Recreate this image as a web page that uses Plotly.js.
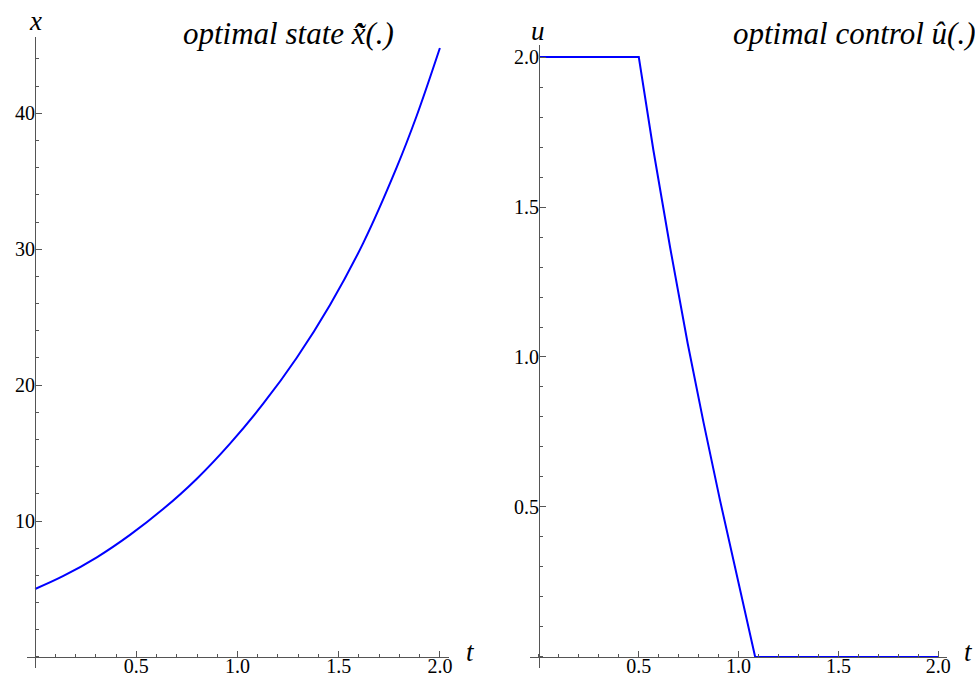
<!DOCTYPE html>
<html>
<head>
<meta charset="utf-8">
<script src="https://cdn.plot.ly/plotly-3.0.1.min.js"></script>
<style>html,body{margin:0;padding:0;background:#fff;}#chart{width:975px;height:679px;}</style>
</head>
<body>
<div id="chart"></div>
<script>
// optimal state x(t)
const stateT = [0, 0.14, 0.305, 0.469, 0.634, 0.798, 0.963, 1.128, 1.292, 1.457, 1.621, 1.786, 1.885, 2.0];
const stateX = [5.0, 5.96, 7.33, 8.98, 10.9, 13.1, 15.7, 18.65, 22.0, 25.9, 30.45, 36.0, 39.8, 44.8];
// optimal control u(t)
const controlT = [0, 0.5, 0.573, 0.657, 0.745, 0.824, 0.907, 0.991, 1.083, 2.0];
const controlU = [2.0, 2.0, 1.69, 1.365, 1.045, 0.783, 0.522, 0.27, 0.0, 0.0];
// ticks
const tTickVals = [0.5, 1.0, 1.5, 2.0];
const tTickText = ["0.5", "1.0", "1.5", "2.0"];
const xTickVals = [10, 20, 30, 40];
const xTickText = ["10", "20", "30", "40"];
const uTickVals = [0.5, 1.0, 1.5, 2.0];
const uTickText = ["0.5", "1.0", "1.5", "2.0"];

const W = 975, H = 679;
const px = v => v / W;
const py = v => 1 - v / H;

const tickFont = {family: "Liberation Serif, Times New Roman, serif", size: 20, color: "#000"};
const axisCommon = {
  showgrid: false, zeroline: false, showline: true, linecolor: "#555", linewidth: 1,
  ticks: "inside", ticklen: 6, tickcolor: "#555", tickwidth: 1, tickfont: tickFont,
  tickmode: "array", fixedrange: true
};
const minorT = {dtick: 0.1, tick0: 0, ticklen: 3, tickcolor: "#555", ticks: "inside"};

const data = [
  {x: stateT, y: stateX, xaxis: "x", yaxis: "y", type: "scatter", mode: "lines",
   line: {color: "#0000ff", width: 2, shape: "spline", smoothing: 1}, hoverinfo: "none"},
  {x: controlT, y: controlU, xaxis: "x2", yaxis: "y2", type: "scatter", mode: "lines",
   line: {color: "#0000ff", width: 2, shape: "linear"}, hoverinfo: "none"}
];

const layout = {
  width: W, height: H, margin: {l: 0, r: 0, t: 0, b: 0},
  paper_bgcolor: "#fff", plot_bgcolor: "rgba(0,0,0,0)", showlegend: false,
  xaxis: Object.assign({}, axisCommon, {
    domain: [px(27), px(449)], range: [-0.04, 2.045],
    anchor: "free", position: py(657), ticklabelstandoff: -9,
    tickvals: tTickVals, ticktext: tTickText, minor: minorT
  }),
  yaxis: Object.assign({}, axisCommon, {
    domain: [py(668), py(37)], range: [-0.81, 45.61],
    anchor: "free", position: px(35), ticklabelstandoff: -4,
    tickvals: xTickVals, ticktext: xTickText,
    minor: {dtick: 2, tick0: 0, ticklen: 3, tickcolor: "#555", ticks: "inside"}
  }),
  xaxis2: Object.assign({}, axisCommon, {
    domain: [px(530), px(947)], range: [-0.045, 2.044],
    anchor: "free", position: py(657), ticklabelstandoff: -9,
    tickvals: tTickVals, ticktext: tTickText, minor: minorT
  }),
  yaxis2: Object.assign({}, axisCommon, {
    domain: [py(668), py(45)], range: [-0.0367, 2.04],
    anchor: "free", position: px(539), ticklabelstandoff: -4,
    tickvals: uTickVals, ticktext: uTickText, minor: minorT
  }),
  annotations: [
    {text: "<i>optimal state x\u0303\u0302(.)</i>", xref: "paper", yref: "paper", x: px(288), y: py(33),
     xanchor: "center", yanchor: "middle", showarrow: false,
     font: {family: "Liberation Serif, serif", size: 31, color: "#000"}},
    {text: "<i>optimal control u\u0302(.)</i>", xref: "paper", yref: "paper", x: px(854), y: py(33),
     xanchor: "center", yanchor: "middle", showarrow: false,
     font: {family: "Liberation Serif, serif", size: 31, color: "#000"}},
    {text: "<i>x</i>", xref: "paper", yref: "paper", x: px(35), y: py(21),
     xanchor: "center", yanchor: "middle", showarrow: false,
     font: {family: "Liberation Serif, serif", size: 27, color: "#000"}},
    {text: "<i>u</i>", xref: "paper", yref: "paper", x: px(538), y: py(31),
     xanchor: "center", yanchor: "middle", showarrow: false,
     font: {family: "Liberation Serif, serif", size: 27, color: "#000"}},
    {text: "<i>t</i>", xref: "paper", yref: "paper", x: px(470), y: py(652),
     xanchor: "center", yanchor: "middle", showarrow: false,
     font: {family: "Liberation Serif, serif", size: 27, color: "#000"}},
    {text: "<i>t</i>", xref: "paper", yref: "paper", x: px(968), y: py(652),
     xanchor: "center", yanchor: "middle", showarrow: false,
     font: {family: "Liberation Serif, serif", size: 27, color: "#000"}}
  ]
};

Plotly.newPlot("chart", data, layout, {displayModeBar: false, staticPlot: true});
</script>
</body>
</html>
